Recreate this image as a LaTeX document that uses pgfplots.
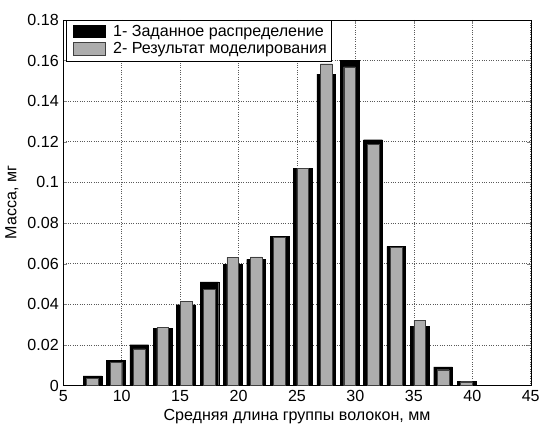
\documentclass[border={0pt 5bp 0pt 9bp}]{standalone}
\usepackage{pgfplots}
\pgfplotsset{compat=1.18}
\usepackage{fontspec}
\setmainfont{Liberation Sans}
\begin{document}
\fontsize{16.5}{19}\selectfont
\begin{tikzpicture}
\begin{axis}[
  scale only axis,
  width=478bp, height=374bp,
  xmin=5, xmax=45, ymin=0, ymax=0.18,
  xtick={5,10,...,45},
  ytick={0,0.02,...,0.18},
  scaled y ticks=false,
  yticklabel style={/pgf/number format/fixed, /pgf/number format/precision=2, xshift=1bp},
  xticklabel style={yshift=1bp},
  /pgf/number format/assume math mode=true,
  tick align=inside,
  major tick length=4bp,
  grid=major,
  major grid style={dotted, line width=0.7pt, black!65},
  axis line style={black},
  xlabel={Средняя длина группы волокон, мм},
  ylabel={Масса, мг},
  xlabel style={yshift=3bp},
  ylabel style={yshift=-2bp},
  legend style={at={(rel axis cs:0.006,1)}, anchor=north west, draw=black, line width=0.7pt,
    font=\fontsize{16.5}{19}\selectfont, inner xsep=3bp, inner ysep=3bp, row sep=0bp, cells={anchor=west}},
  legend image code/.code={\draw[#1] (4bp,-6bp) rectangle (36bp,7bp); \path (0bp,0bp) (42bp,0bp);},
]
\addplot[ybar, bar width=1.6, bar shift=0pt, fill=black, draw=black] coordinates {
(7.5,0.0048) (9.5,0.0124) (11.5,0.0201) (13.5,0.028) (15.5,0.0398) (17.5,0.051)
(19.5,0.0598) (21.5,0.0621) (23.5,0.0733) (25.5,0.107) (27.5,0.1533) (29.5,0.160)
(31.5,0.121) (33.5,0.0685) (35.5,0.0293) (37.5,0.0092) (39.5,0.0022)};
\addlegendentry{1- Заданное распределение}
\addplot[ybar, bar width=1.0, bar shift=0pt, fill=black!32, draw=black!75, line width=0.4pt] coordinates {
(7.5,0.0037) (9.5,0.0113) (11.5,0.018) (13.5,0.0288) (15.5,0.0416) (17.5,0.0472)
(19.5,0.0631) (21.5,0.0634) (23.5,0.0731) (25.5,0.1068) (27.5,0.1584) (29.5,0.1568)
(31.5,0.1187) (33.5,0.068) (35.5,0.0322) (37.5,0.0078) (39.5,0.0019)};
\addlegendentry{2- Результат моделирования}
\end{axis}
\end{tikzpicture}
\end{document}
